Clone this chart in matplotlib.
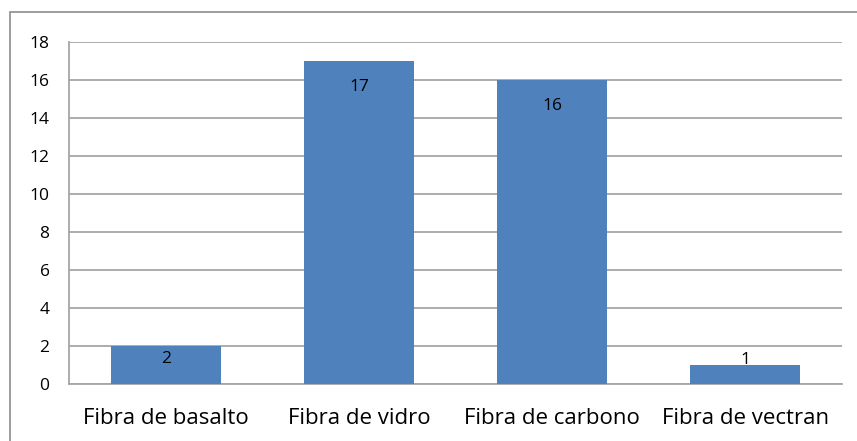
import matplotlib
matplotlib.use('Agg')
import matplotlib.pyplot as plt
from matplotlib.patches import Rectangle

categorias = ['Fibra de basalto', 'Fibra de vidro', 'Fibra de carbono', 'Fibra de vectran']
valores = [2, 17, 16, 1]
yticks = [0, 2, 4, 6, 8, 10, 12, 14, 16, 18]

W, H = 857, 441
plt.rcParams['font.family'] = ['Open Sans', 'DejaVu Sans']

fig = plt.figure(figsize=(W / 100, H / 100), dpi=100)
ax = fig.add_axes([69 / W, (H - 384) / H, (842 - 69) / W, (384 - 42) / H])

cinza = '#A6A6A6'
x = range(len(categorias))
bars = ax.bar(x, valores, width=0.57, color='#4F81BD', zorder=3)

# rótulos dentro do topo das barras (como o Excel faz)
for b, v in zip(bars, valores):
  h_px = v * (384 - 42) / 18
  off = -min(26, max(h_px - 25, -5))
  ax.annotate(str(v), (b.get_x() + b.get_width() / 2, v), xytext=(0, off),
              textcoords='offset pixels', ha='center', va='center',
              fontsize=12.5, color='black', zorder=4)

ax.set_xlim(-0.5, len(categorias) - 0.5)
ax.set_ylim(0, 18)
ax.set_yticks(yticks)
ax.set_xticks(list(x))
ax.set_xticklabels(categorias, fontsize=16)
ax.tick_params(axis='y', length=0, pad=14, labelsize=12.5)
ax.tick_params(axis='x', length=0, pad=17)
ax.grid(axis='y', color=cinza, linewidth=1.3, zorder=0)
for s in ['top', 'right']:
  ax.spines[s].set_visible(False)
ax.spines['left'].set_color(cinza)
ax.spines['bottom'].set_color(cinza)
ax.spines['left'].set_linewidth(1.3)
ax.spines['bottom'].set_linewidth(1.3)

# moldura do gráfico
fig.patches.append(Rectangle((10 / W, -0.2), 1.2, (H - 12) / H + 0.2,
                             transform=fig.transFigure, fill=False,
                             edgecolor='#8C8C8C', linewidth=1.2))

fig.savefig('out.png', dpi=100)
